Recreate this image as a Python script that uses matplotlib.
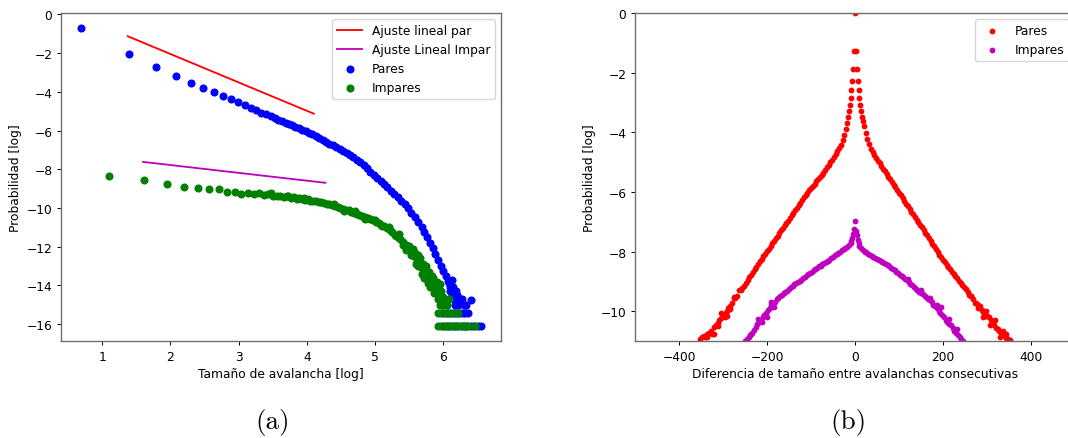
import numpy as np
import matplotlib
matplotlib.use("Agg")
import matplotlib.pyplot as plt

# --- panel (a): distribucion de tamanos de avalancha (log-log) ---
pares_x = [0.69, 1.39, 1.79, 2.08, 2.30, 2.48, 2.64, 2.77, 2.89, 2.99, 3.09, 3.18,
           3.26, 3.33, 3.40, 3.47, 3.53, 3.58, 3.64, 3.69, 3.74, 3.78, 3.83, 3.88,
           3.93, 3.98, 4.03, 4.08, 4.13, 4.18, 4.23, 4.28, 4.33, 4.38, 4.43, 4.48,
           4.53, 4.58, 4.63, 4.68, 4.73, 4.78, 4.83, 4.88, 4.93, 4.98, 5.03, 5.08,
           5.13, 5.18, 5.23, 5.28, 5.33, 5.38, 5.43, 5.48, 5.53, 5.58, 5.63, 5.68,
           5.72, 5.76, 5.80, 5.84, 5.88, 5.92, 5.96, 6.00, 6.03, 6.06,
           6.08, 6.10, 6.12, 6.09, 6.12, 6.14, 6.16, 6.18, 6.20, 6.22, 6.24, 6.27,
           6.17, 6.22, 6.30, 6.33, 6.40,
           6.00, 6.05, 6.10, 6.15, 6.20, 6.24, 6.28, 6.32, 6.36,
           6.00, 6.05, 6.10, 6.15, 6.20, 6.25, 6.30, 6.35, 6.40, 6.45, 6.50, 6.55]
pares_y = [-0.70, -2.05, -2.73, -3.18, -3.53, -3.79, -4.02, -4.21, -4.38, -4.52, -4.67, -4.82,
           -4.95, -5.07, -5.17, -5.27, -5.36, -5.44, -5.52, -5.60, -5.68, -5.74, -5.80, -5.88,
           -5.96, -6.03, -6.11, -6.19, -6.29, -6.39, -6.48, -6.57, -6.67, -6.76, -6.86, -6.96,
           -7.06, -7.17, -7.28, -7.39, -7.52, -7.65, -7.80, -7.95, -8.12, -8.28, -8.44, -8.60,
           -8.76, -8.93, -9.10, -9.27, -9.45, -9.63, -9.82, -10.02, -10.24, -10.48, -10.74, -11.00,
           -11.26, -11.52, -11.80, -12.08, -12.38, -12.70, -13.00, -13.25, -13.50, -13.75,
           -13.90, -14.10, -13.70, -14.30, -14.50, -14.10, -14.70, -14.30, -14.50, -14.90, -14.70, -14.70,
           -15.00, -15.00, -15.00, -15.00, -14.75,
           -15.42, -15.42, -15.42, -15.42, -15.42, -15.42, -15.42, -15.42, -15.42,
           -16.10, -16.10, -16.10, -16.10, -16.10, -16.10, -16.10, -16.10, -16.10, -16.10, -16.10, -16.10]

impares_x = [1.10, 1.61, 1.95, 2.20, 2.40, 2.56, 2.71, 2.83, 2.94, 3.04, 3.14, 3.22,
             3.30, 3.37, 3.43, 3.50, 3.56, 3.61, 3.66, 3.71, 3.76, 3.81, 3.85, 3.89,
             3.93, 3.97, 4.01, 4.05, 4.09, 4.13, 4.17, 4.21, 4.25, 4.29, 4.33, 4.37,
             4.41, 4.45, 4.49, 4.53, 4.57, 4.61, 4.65, 4.69, 4.73, 4.77, 4.81, 4.85,
             4.89, 4.93, 4.97, 5.01, 5.05, 5.09, 5.13, 5.17, 5.21, 5.25, 5.29, 5.33,
             5.37, 5.41, 5.45, 5.49, 5.53, 5.57, 5.61, 5.65, 5.69, 5.73, 5.77, 5.81,
             5.85, 5.89, 5.93,
             3.48, 3.72, 3.95, 4.40, 4.55, 4.70, 4.85, 5.00, 5.10, 5.20, 5.30, 5.35,
             5.40, 5.50, 5.52, 5.58, 5.62, 5.66, 5.68, 5.74, 5.78, 5.84, 5.86, 5.90,
             5.45, 5.55, 5.60, 5.63, 5.70, 5.72, 5.75, 5.79, 5.80, 5.83, 5.87, 5.90,
             5.92, 5.95, 5.97, 6.00, 6.02, 5.95, 6.00, 6.05, 6.08,
             5.92, 5.97, 6.02, 6.07, 6.12, 6.17, 6.21,
             5.92, 5.97, 6.02, 6.07, 6.12, 6.17, 6.22, 6.27, 6.32, 6.36, 6.46]
impares_y = [-8.33, -8.57, -8.75, -8.92, -8.96, -9.01, -9.04, -9.20, -9.17, -9.27, -9.22, -9.28,
             -9.25, -9.31, -9.30, -9.36, -9.40, -9.36, -9.43, -9.40, -9.47, -9.44, -9.52, -9.49,
             -9.55, -9.58, -9.55, -9.62, -9.64, -9.63, -9.68, -9.70, -9.72, -9.78, -9.80, -9.86,
             -9.88, -9.93, -9.98, -10.03, -10.08, -10.12, -10.19, -10.24, -10.30, -10.36, -10.41, -10.47,
             -10.52, -10.58, -10.64, -10.70, -10.78, -10.86, -10.94, -11.05, -11.12, -11.24, -11.38, -11.50,
             -11.62, -11.78, -11.92, -12.10, -12.28, -12.50, -12.72, -12.88, -13.12, -13.38, -13.55, -13.80,
             -14.05, -14.30, -14.55,
             -9.24, -9.36, -9.48, -9.80, -10.15, -10.18, -10.55, -10.62, -10.95, -11.00, -11.45, -11.35,
             -11.90, -11.95, -12.45, -12.35, -13.00, -12.60, -13.40, -13.00, -13.90, -13.60, -14.40, -14.10,
             -12.15, -12.10, -12.90, -12.45, -12.90, -13.60, -13.20, -13.30, -14.10, -13.50, -13.90, -13.80,
             -14.70, -13.95, -14.30, -14.60, -14.90, -15.00, -15.00, -15.00, -14.70,
             -15.42, -15.42, -15.42, -15.42, -15.42, -15.42, -15.42,
             -16.10, -16.10, -16.10, -16.10, -16.10, -16.10, -16.10, -16.10, -16.10, -16.10, -16.10]

# ajustes lineales (extremos)
ajuste_par_x = [1.375, 4.10]
ajuste_par_y = [-1.13, -5.13]
ajuste_impar_x = [1.60, 4.27]
ajuste_impar_y = [-7.62, -8.70]

# --- panel (b): diferencia entre avalanchas consecutivas ---
# pares: pico en 0, ramas a izquierda y derecha
pares_pico = 0.0
pares_der_x = list(range(2, 21, 2)) + list(range(24, 353, 4))
pares_der_y = [-1.26, -1.88, -2.28, -2.58, -2.85, -3.10, -3.30, -3.48, -3.63, -3.78,
               -4.02, -4.22, -4.40, -4.55, -4.66, -4.77, -4.87, -4.96, -5.04, -5.12,
               -5.22, -5.31, -5.40, -5.49, -5.58, -5.67, -5.76, -5.85, -5.94, -6.03,
               -6.12, -6.21, -6.30, -6.39, -6.48, -6.57, -6.66, -6.75, -6.84, -6.93,
               -7.02, -7.11, -7.19, -7.28, -7.37, -7.46, -7.55, -7.64, -7.74, -7.83,
               -7.92, -8.01, -8.10, -8.19, -8.28, -8.36, -8.44, -8.52, -8.60, -8.68,
               -8.76, -8.83, -8.90, -8.98, -9.05, -9.12, -9.20, -9.27, -9.36, -9.45,
               -9.50, -9.60, -9.72, -9.73, -9.80, -9.82, -9.95, -10.02, -10.15, -10.16,
               -10.18, -10.30, -10.38, -10.45, -10.58, -10.60, -10.66, -10.72, -10.70, -10.82,
               -10.90, -10.92, -10.97]
pares_izq_x = list(range(-2, -21, -2)) + list(range(-24, -353, -4))
pares_izq_y = [-1.26, -1.88, -2.28, -2.58, -2.85, -3.08, -3.30, -3.50, -3.70, -3.88,
               -4.10, -4.27, -4.42, -4.54, -4.64, -4.74, -4.83, -4.92, -5.01, -5.10,
               -5.18, -5.27, -5.35, -5.42, -5.49, -5.56, -5.64, -5.72, -5.79, -5.86,
               -5.94, -6.02, -6.10, -6.18, -6.27, -6.36, -6.45, -6.54, -6.62, -6.70,
               -6.78, -6.86, -6.96, -7.05, -7.12, -7.20, -7.29, -7.38, -7.47, -7.55,
               -7.64, -7.72, -7.81, -7.90, -7.99, -8.08, -8.16, -8.25, -8.33, -8.42,
               -8.51, -8.60, -8.69, -8.78, -8.87, -8.96, -9.05, -9.14, -9.22, -9.30,
               -9.30, -9.48, -9.56, -9.55, -9.73, -9.82, -9.91, -10.00, -10.09, -10.10,
               -10.24, -10.30, -10.50, -10.46, -10.54, -10.75, -10.68, -10.74, -10.77, -10.88,
               -10.84, -10.88, -10.93]
pares_extra_x = [-276, -284, -290, -305, -320, -336, -312, -296,
                 290, 298, 306, 318, 330, 336, 344, 280, 264]
pares_extra_y = [-9.52, -9.92, -10.15, -10.05, -10.75, -10.88, -10.40, -10.20,
                 -10.20, -10.00, -10.45, -10.30, -10.85, -10.65, -10.78, -9.90, -9.50]

impares_pico = -6.97
impares_der_x = list(range(2, 11, 2)) + list(range(14, 247, 4))
impares_der_y = [-7.30, -7.45, -7.60, -7.72, -7.80,
                 -7.88, -7.95, -8.00, -8.03, -8.07, -8.11, -8.15, -8.18, -8.22, -8.26,
                 -8.29, -8.33, -8.36, -8.40, -8.43, -8.46, -8.50, -8.54, -8.58, -8.63,
                 -8.68, -8.72, -8.77, -8.82, -8.87, -8.92, -8.97, -9.03, -9.08, -9.13,
                 -9.19, -9.25, -9.30, -9.34, -9.38, -9.43, -9.48, -9.53, -9.58, -9.64,
                 -9.70, -9.78, -9.84, -9.90, -9.98, -10.05, -10.12, -10.20, -10.28, -10.35,
                 -10.42, -10.48, -10.58, -10.66, -10.74, -10.80, -10.88, -10.94, -11.00]
impares_izq_x = list(range(-2, -11, -2)) + list(range(-14, -251, -4))
impares_izq_y = [-7.25, -7.42, -7.55, -7.66, -7.72,
                 -7.78, -7.84, -7.88, -7.92, -7.96, -8.00, -8.04, -8.08, -8.13, -8.18,
                 -8.22, -8.27, -8.31, -8.35, -8.39, -8.43, -8.47, -8.50, -8.54, -8.58,
                 -8.63, -8.68, -8.72, -8.76, -8.80, -8.84, -8.89, -8.94, -8.98, -9.02,
                 -9.06, -9.10, -9.15, -9.20, -9.25, -9.31, -9.36, -9.40, -9.45, -9.50,
                 -9.55, -9.60, -9.68, -9.75, -9.80, -9.88, -9.96, -10.05, -10.12, -10.19,
                 -10.28, -10.36, -10.44, -10.52, -10.62, -10.72, -10.80, -10.86, -10.93, -11.00]
impares_extra_x = [-184, -200, -212, -220, -236, -190, 150, 170, 196, 214, 232, 120, 186]
impares_extra_y = [-9.85, -10.20, -10.35, -10.25, -10.75, -9.70, -9.30, -9.55, -9.85, -10.25, -10.60, -8.92, -9.80]

dif_pares_x = [0] + pares_izq_x + pares_der_x + pares_extra_x
dif_pares_y = [pares_pico] + pares_izq_y + pares_der_y + pares_extra_y
dif_impares_x = [0] + impares_izq_x + impares_der_x + impares_extra_x
dif_impares_y = [impares_pico] + impares_izq_y + impares_der_y + impares_extra_y

plt.rcParams.update({
    "font.size": 8.8,
    "axes.linewidth": 1.0,
    "axes.edgecolor": "#6e6e6e",
    "xtick.major.size": 3.1, "ytick.major.size": 3.1,
    "xtick.major.width": 0.7, "ytick.major.width": 0.7,
    "xtick.major.pad": 3.1, "ytick.major.pad": 3.1,
    "axes.labelpad": 3.5,
    "legend.fontsize": 8.8,
})

fig = plt.figure(figsize=(10.68, 4.39), dpi=100)
W, H = 1068, 439

ax1 = fig.add_axes([61 / W, 97 / H, 440 / W, 328 / H])
ax1.plot(ajuste_par_x, ajuste_par_y, color="r", lw=1.32, label="Ajuste lineal par")
ax1.plot(ajuste_impar_x, ajuste_impar_y, color="m", lw=1.32, label="Ajuste Lineal Impar")
ax1.scatter(pares_x, pares_y, s=23, color="b", label="Pares")
ax1.scatter(impares_x, impares_y, s=23, color="g", label="Impares")
ax1.set_yticks(np.arange(-16, 1, 2))
ax1.set_xticks(range(1, 7))
ax1.set_xlabel("Tamaño de avalancha [log]")
ax1.set_ylabel("Probabilidad [log]")
ax1.legend(loc="upper right")

ax2 = fig.add_axes([635 / W, 97 / H, 440 / W, 328 / H])
ax2.scatter(dif_pares_x, dif_pares_y, s=10, color="r", label="Pares")
ax2.scatter(dif_impares_x, dif_impares_y, s=10, color="m", label="Impares")
ax2.set_xlim(-500, 500)
ax2.set_ylim(-11, 0)
ax2.set_xticks([-400, -200, 0, 200, 400])
ax2.set_yticks([0, -2, -4, -6, -8, -10])
ax2.set_xlabel("Diferencia de tamaño entre avalanchas consecutivas")
ax2.set_ylabel("Probabilidad [log]")
ax2.legend(loc="upper right")

fig.text(273 / W, 1 - 423 / H, "(a)", family="cmr10", fontsize=19.5, ha="center", va="center")
fig.text(848 / W, 1 - 423 / H, "(b)", family="cmr10", fontsize=19.5, ha="center", va="center")

fig.savefig("out.png", dpi=100)
